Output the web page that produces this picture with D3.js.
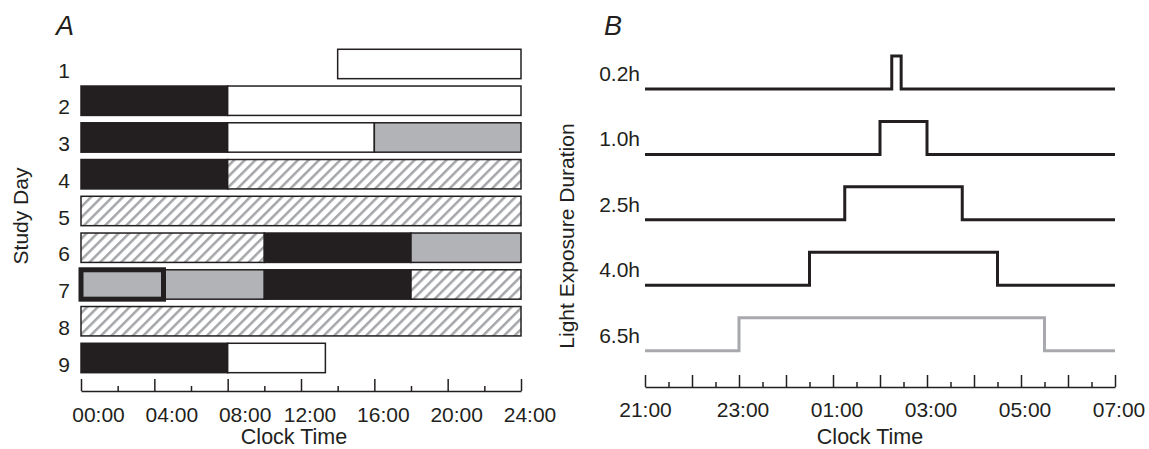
<!DOCTYPE html>
<html>
<head>
<meta charset="utf-8">
<script src="https://cdn.jsdelivr.net/npm/d3@7"></script>
<style>
	body { margin: 0; background: #fff; }
	svg { font-family: "Liberation Sans", Arial, sans-serif; }
	.axis path, .axis line { stroke: #231f20; stroke-width: 1.5; }
	.axis text { font-size: 21px; fill: #231f20; }
	.label { font-size: 21px; fill: #231f20; }
	.panel { font-size: 27px; font-style: italic; fill: #231f20; }
</style>
</head>
<body>
<svg id="chart" width="1149" height="449"></svg>
<script>
// Panel A: study days and what happened during each clock hour
const studyDays = [1, 2, 3, 4, 5, 6, 7, 8, 9];
// [day, start hour, end hour, kind]
const daySegments = [
	[1, 14, 24, "white"],
	[2, 0, 8, "black"], [2, 8, 24, "white"],
	[3, 0, 8, "black"], [3, 8, 16, "white"], [3, 16, 24, "gray"],
	[4, 0, 8, "black"], [4, 8, 24, "hatch"],
	[5, 0, 24, "hatch"],
	[6, 0, 10, "hatch"], [6, 10, 18, "black"], [6, 18, 24, "gray"],
	[7, 0, 10, "gray"], [7, 10, 18, "black"], [7, 18, 24, "hatch"],
	[8, 0, 24, "hatch"],
	[9, 0, 8, "black"], [9, 8, 13.33, "white"]
];
// highlighted block on day 7
const boxDay = 7, boxStart = 0, boxEnd = 4.5;
const hourTicksA = [0, 2, 4, 6, 8, 10, 12, 14, 16, 18, 20, 22, 24];
const hourLabelsA = ["00:00", "", "04:00", "", "08:00", "", "12:00", "", "16:00", "", "20:00", "", "24:00"];

// Panel B: light pulses, hours counted from 21:00
const durations = ["0.2h", "1.0h", "2.5h", "4.0h", "6.5h"];
const pulseOn = [5.25, 5.0, 4.25, 3.5, 2.0];
const pulseOff = [5.45, 6.0, 6.75, 7.5, 8.5];
const pulseColor = ["#231f20", "#231f20", "#231f20", "#231f20", "#a7a9ac"];
const hourTicksB = d3.range(0, 10.01, 0.5);
const hourLabelsB = ["21:00", "23:00", "01:00", "03:00", "05:00", "07:00"];

const fills = {white: "#ffffff", black: "#231f20", gray: "#b1b3b6", hatch: "url(#hatch)"};

const svg = d3.select("#chart");

// hatch pattern
const pat = svg.append("defs").append("pattern")
	.attr("id", "hatch")
	.attr("patternUnits", "userSpaceOnUse")
	.attr("width", 7.5)
	.attr("height", 7.5)
	.attr("patternTransform", "rotate(45)");
pat.append("rect").attr("width", 7.5).attr("height", 7.5).attr("fill", "#fff");
pat.append("line")
	.attr("x1", 0).attr("y1", 0).attr("x2", 0).attr("y2", 7.5)
	.attr("stroke", "#a4a6a9")
	.attr("stroke-width", 5);

/* ---------- Panel A ---------- */
const xA = d3.scaleLinear().domain([0, 24]).range([81, 521]);
const yA = d3.scaleBand().domain(studyDays)
	.range([45.6, 45.6 + 9 * 36.75])
	.paddingInner(0.2).paddingOuter(0.1);

const gA = svg.append("g");

gA.selectAll(".seg")
	.data(daySegments)
	.enter().append("rect")
		.attr("class", "seg")
		.attr("x", d => xA(d[1]))
		.attr("y", d => yA(d[0]))
		.attr("width", d => xA(d[2]) - xA(d[1]))
		.attr("height", yA.bandwidth())
		.style("fill", d => fills[d[3]])
		.style("stroke", "#231f20")
		.style("stroke-width", 1.5);

// bold box on day 7
gA.append("rect")
	.attr("x", xA(boxStart))
	.attr("y", yA(boxDay))
	.attr("width", xA(boxEnd) - xA(boxStart))
	.attr("height", yA.bandwidth())
	.style("fill", "none")
	.style("stroke", "#231f20")
	.style("stroke-width", 5);

// day numbers
gA.selectAll(".daylabel")
	.data(studyDays)
	.enter().append("text")
		.attr("class", "label")
		.attr("x", 64)
		.attr("y", d => yA(d) + yA.bandwidth() - 1)
		.attr("text-anchor", "middle")
		.text(d => d);

const axisA = gA.append("g")
	.attr("class", "axis")
	.attr("transform", "translate(0,391)")
	.call(d3.axisBottom(xA)
		.tickValues(hourTicksA)
		.tickFormat((d, i) => hourLabelsA[i])
		.tickSize(-12)
		.tickSizeOuter(0)
		.tickPadding(16));
axisA.selectAll(".tick line").attr("y2", (d, i) => i % 2 ? -5 : -12);
// labels in the original sit a little right of their ticks
axisA.selectAll(".tick text").attr("y", 16).attr("dx", d => d < 10 ? 17 : 8.5);

gA.append("text")
	.attr("class", "label")
	.style("font-size", "21.5px")
	.attr("x", 294)
	.attr("y", 444)
	.attr("text-anchor", "middle")
	.text("Clock Time");

gA.append("text")
	.attr("class", "label")
	.attr("transform", "translate(28,216) rotate(-90)")
	.attr("text-anchor", "middle")
	.text("Study Day");

gA.append("text")
	.attr("class", "panel")
	.attr("x", 56)
	.attr("y", 35)
	.text("A");

/* ---------- Panel B ---------- */
const xB = d3.scaleLinear().domain([0, 10]).range([645, 1115]);
const yB = d3.scalePoint().domain(durations).range([89, 350.7]);
const pulseHeight = 33;

const gB = svg.append("g");

const line = d3.line().x(d => xB(d[0])).y(d => d[1]);

gB.selectAll(".pulse")
	.data(durations)
	.enter().append("path")
		.attr("class", "pulse")
		.attr("d", (d, i) => {
			const base = yB(d), top = base - pulseHeight;
			return line([[0, base], [pulseOn[i], base], [pulseOn[i], top],
				[pulseOff[i], top], [pulseOff[i], base], [10, base]]);
		})
		.style("fill", "none")
		.style("stroke", (d, i) => pulseColor[i])
		.style("stroke-width", 3);

gB.selectAll(".durlabel")
	.data(durations)
	.enter().append("text")
		.attr("class", "label")
		.attr("x", 640)
		.attr("y", d => yB(d) - 8)
		.attr("text-anchor", "end")
		.text(d => d);

const axisB = gB.append("g")
	.attr("class", "axis")
	.attr("transform", "translate(0,387)")
	.call(d3.axisBottom(xB)
		.tickValues(hourTicksB)
		.tickFormat((d, i) => i % 4 === 0 ? hourLabelsB[i / 4] : "")
		.tickSize(-12)
		.tickSizeOuter(0)
		.tickPadding(15));
axisB.selectAll(".tick line").attr("y2", (d, i) => i % 2 ? -5 : -12);
axisB.selectAll(".tick text").attr("y", 15).attr("dx", d => d === 0 ? 0 : 3.5);

gB.append("text")
	.attr("class", "label")
	.style("font-size", "21.5px")
	.attr("x", 870)
	.attr("y", 444)
	.attr("text-anchor", "middle")
	.text("Clock Time");

gB.append("text")
	.attr("class", "label")
	.attr("transform", "translate(574,236) rotate(-90)")
	.attr("text-anchor", "middle")
	.text("Light Exposure Duration");

gB.append("text")
	.attr("class", "panel")
	.attr("x", 604)
	.attr("y", 35)
	.text("B");
</script>
</body>
</html>
